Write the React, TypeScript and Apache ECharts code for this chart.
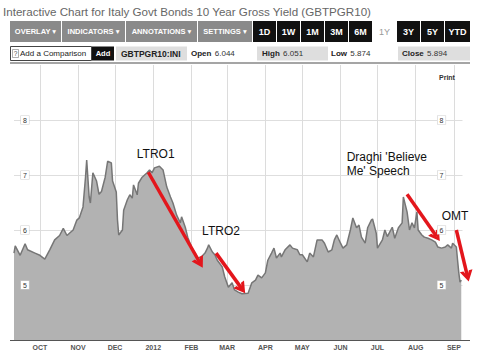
import React, { useEffect, useRef } from "react";
import * as echarts from "echarts";

// ---- data ----
const DATES = [
  "2011-09-10","2011-09-11","2011-09-15","2011-09-19","2011-09-21","2011-09-27",
  "2011-10-01","2011-10-05","2011-10-09","2011-10-13","2011-10-17","2011-10-20","2011-10-23","2011-10-25","2011-10-28","2011-10-31",
  "2011-11-02","2011-11-05","2011-11-07","2011-11-08","2011-11-10","2011-11-11","2011-11-13","2011-11-16","2011-11-18","2011-11-20","2011-11-23","2011-11-25","2011-11-28","2011-11-29",
  "2011-12-02","2011-12-03","2011-12-04","2011-12-07","2011-12-08","2011-12-11","2011-12-13","2011-12-15","2011-12-16","2011-12-19","2011-12-20","2011-12-23","2011-12-27","2011-12-29","2011-12-31",
  "2012-01-02","2012-01-06","2012-01-09","2012-01-12","2012-01-15","2012-01-17","2012-01-20","2012-01-23","2012-01-24","2012-01-27","2012-01-29",
  "2012-02-01","2012-02-04","2012-02-06","2012-02-09","2012-02-12","2012-02-14","2012-02-15","2012-02-18","2012-02-20","2012-02-22","2012-02-26","2012-02-28",
  "2012-03-02","2012-03-05","2012-03-07","2012-03-10","2012-03-13","2012-03-18","2012-03-21","2012-03-24","2012-03-26","2012-03-29",
  "2012-04-01","2012-04-03","2012-04-06","2012-04-08","2012-04-10","2012-04-13","2012-04-14","2012-04-17","2012-04-21","2012-04-23","2012-04-27","2012-04-29",
  "2012-05-01","2012-05-05","2012-05-07","2012-05-10","2012-05-13","2012-05-17","2012-05-19","2012-05-22","2012-05-25","2012-05-27","2012-05-29",
  "2012-06-01","2012-06-03","2012-06-06","2012-06-09","2012-06-11","2012-06-14","2012-06-16","2012-06-18","2012-06-21","2012-06-23","2012-06-26","2012-06-27","2012-06-30",
  "2012-07-01","2012-07-05","2012-07-07","2012-07-09","2012-07-13","2012-07-15","2012-07-18","2012-07-21","2012-07-22","2012-07-25","2012-07-27","2012-07-29","2012-07-31",
  "2012-08-02","2012-08-03","2012-08-06","2012-08-08","2012-08-11","2012-08-14","2012-08-17","2012-08-19","2012-08-22","2012-08-25","2012-08-27","2012-08-30","2012-08-31",
  "2012-09-03","2012-09-04","2012-09-05","2012-09-06","2012-09-07",
];
const YIELDS = [
  5.58,5.71,5.54,5.75,5.64,5.58,
  5.54,5.47,5.64,5.82,5.90,6.03,5.90,5.94,6.00,6.18,
  6.22,6.42,6.95,7.27,6.60,6.49,7.04,6.89,6.65,6.70,6.96,7.25,7.22,6.89,
  6.69,6.18,5.91,6.00,6.36,6.55,6.64,6.58,6.82,6.64,6.85,6.96,7.04,7.09,7.04,
  7.13,7.16,7.09,6.78,6.60,6.49,6.27,6.13,6.24,6.05,5.87,
  5.69,5.58,5.49,5.51,5.58,5.67,5.73,5.60,5.55,5.45,5.33,5.15,
  4.96,5.04,4.91,4.87,4.84,4.85,5.04,5.09,5.18,5.13,
  5.22,5.45,5.58,5.67,5.49,5.58,5.51,5.64,5.73,5.67,5.64,5.55,
  5.55,5.42,5.58,5.51,5.82,5.82,5.76,5.60,5.64,5.82,5.91,
  5.76,5.67,5.73,6.00,6.22,6.04,6.09,5.87,5.76,6.04,6.18,6.20,5.94,
  5.67,5.82,6.00,5.88,6.05,5.85,6.04,6.13,6.60,6.33,6.00,6.13,6.04,
  6.33,6.00,5.91,5.87,5.85,5.82,5.78,5.69,5.67,5.69,5.73,5.67,5.76,
  5.69,5.45,5.22,5.05,5.09,
];
const MONTH_DATES = ["2011-10-01","2011-11-01","2011-12-01","2012-01-01","2012-02-01","2012-03-01","2012-04-01","2012-05-01","2012-06-01","2012-07-01","2012-08-01","2012-09-01"];
const MONTH_LABELS = ["OCT","NOV","DEC","2012","FEB","MAR","APR","MAY","JUN","JUL","AUG","SEP"];
const Y_MIN = 4;
const Y_MAX = 9;
const X_MIN = "2011-09-10";
const X_MAX = "2012-09-08";
const X_MAX_NOTES = "2012-09-14"; // annotation layer reaches a little past the plot

// annotation arrows: [startDate, startValue, endDate, endValue]
const ARROWS: [string, number, string, number][] = [
  ["2011-12-28", 7.05, "2012-02-08", 5.40],
  ["2012-02-21", 5.58, "2012-03-13", 4.93],
  ["2012-07-25", 6.65, "2012-08-18", 5.88],
  ["2012-09-03", 6.00, "2012-09-12", 5.16],
];
// annotation labels: [date, value, text, align]
const NOTES: [string, number, string, string][] = [
  ["2012-01-03", 7.38, "LTRO1", "center"],
  ["2012-02-25", 5.98, "LTRO2", "center"],
  ["2012-06-06", 7.20, "Draghi 'Believe\nMe' Speech", "left"],
  ["2012-09-02", 6.25, "OMT", "center"],
];

const TITLE = "Interactive Chart for Italy Govt Bonds 10 Year Gross Yield (GBTPGR10)";
const QUOTE = { symbol: "GBTPGR10:INI", open: "6.044", high: "6.051", low: "5.874", close: "5.894" };

const FONT = "'Liberation Sans', Arial, Helvetica, 'DejaVu Sans', sans-serif";
const ts = (s: string) => new Date(s + "T00:00:00").getTime();
const CHEVRON = "path://M0,12 L6,0 L12,12 L8.6,12 L6,6.2 L3.4,12 Z";

const GRID_LEFT = 14;
const GRID_RIGHT = 17.5;
const GRID_TOP = 65;
const GRID_BOTTOM = 19;

function header(): any[] {
  const els: any[] = [];
  els.push({ type: "text", left: 3, top: 5, style: { text: TITLE, fill: "#666", font: `11.6px ${FONT}` } });
  const gray: [number, number, string][] = [
    [10, 61, "OVERLAY ▾"], [62, 125, "INDICATORS ▾"], [126, 197, "ANNOTATIONS ▾"], [198, 252, "SETTINGS ▾"],
  ];
  const dark: [number, number, string, boolean][] = [
    [253, 276, "1D", true], [277, 300, "1W", true], [301, 324, "1M", true], [325, 348, "3M", true], [349, 372, "6M", true],
    [373, 396, "1Y", false], [397, 420, "3Y", true], [421, 444, "5Y", true], [445, 470, "YTD", true],
  ];
  const y0 = 21, h = 21;
  gray.forEach(([a, b, t]) => {
    els.push({ type: "rect", shape: { x: a, y: y0, width: b - a, height: h }, style: { fill: "#8a8a8a" } });
    els.push({ type: "text", x: (a + b) / 2, y: y0 + h / 2, style: { text: t, fill: "#fff", font: `bold 7.5px ${FONT}`, align: "center", verticalAlign: "middle" } });
  });
  dark.forEach(([a, b, t, on]) => {
    els.push({ type: "rect", shape: { x: a, y: y0, width: b - a, height: h }, style: { fill: on ? "#111" : "#fff" } });
    els.push({ type: "text", x: (a + b) / 2, y: y0 + h / 2, style: { text: t, fill: on ? "#fff" : "#999", font: `${on ? "bold " : ""}9px ${FONT}`, align: "center", verticalAlign: "middle" } });
  });
  // info row
  const ry = 46.5, rh = 14, cy = ry + rh / 2;
  els.push({ type: "rect", shape: { x: 10.5, y: ry, width: 81, height: rh }, style: { fill: "#fff", stroke: "#444", lineWidth: 1 } });
  els.push({ type: "rect", shape: { x: 12.5, y: ry + 3, width: 6, height: 8 }, style: { fill: "#fff", stroke: "#777", lineWidth: 0.6 } });
  els.push({ type: "text", x: 15.5, y: cy, style: { text: "?", fill: "#444", font: `6.5px ${FONT}`, align: "center", verticalAlign: "middle" } });
  els.push({ type: "text", x: 20, y: cy, style: { text: "Add a Comparison", fill: "#222", font: `8px ${FONT}`, verticalAlign: "middle" } });
  els.push({ type: "rect", shape: { x: 92, y: ry, width: 22, height: rh }, style: { fill: "#111" } });
  els.push({ type: "text", x: 103, y: cy, style: { text: "Add", fill: "#fff", font: `bold 7.5px ${FONT}`, align: "center", verticalAlign: "middle" } });
  els.push({ type: "rect", shape: { x: 116, y: ry, width: 71, height: rh }, style: { fill: "#dedede" } });
  els.push({ type: "text", x: 121, y: cy, style: { text: QUOTE.symbol, fill: "#222", font: `bold 8.5px ${FONT}`, verticalAlign: "middle" } });
  const kv = (x: number, k: string, v: string) => ({
    type: "text", x, y: cy,
    style: { text: `{k|${k}} {v|${v}}`, verticalAlign: "middle", rich: { k: { fill: "#222", fontWeight: "bold", fontSize: 8, fontFamily: FONT }, v: { fill: "#333", fontSize: 8, fontFamily: FONT } } },
  });
  els.push(kv(191, "Open", QUOTE.open));
  els.push({ type: "rect", shape: { x: 257, y: ry, width: 71, height: rh }, style: { fill: "#dedede" } });
  els.push(kv(262, "High", QUOTE.high));
  els.push(kv(331, "Low", QUOTE.low));
  els.push({ type: "rect", shape: { x: 398, y: ry, width: 72, height: rh }, style: { fill: "#dedede" } });
  els.push(kv(402, "Close", QUOTE.close));
  els.push({ type: "line", shape: { x1: 10, y1: 63, x2: 470, y2: 63 }, style: { stroke: "#a5a5a5", lineWidth: 2 } });
  els.push({ type: "text", x: 439, y: 74, z: 30, style: { text: "Print", fill: "#333", font: `bold 7px ${FONT}` } });
  els.push({ type: "line", z: 20, shape: { x1: 10, y1: 340.5, x2: 470, y2: 340.5 }, style: { stroke: "#555", lineWidth: 1 } });
  return els;
}

export default function App() {
  const ref = useRef<HTMLDivElement>(null);
  useEffect(() => {
    if (!ref.current) return;
    const chart = echarts.init(ref.current, undefined, { renderer: "svg" });
    const data = DATES.map((d, i) => [ts(d), YIELDS[i]]);
    // annotation grid shares the same day scale as the main grid, but reaches further right
    const plotW = 480 - GRID_LEFT - GRID_RIGHT;
    const pxPerMs = plotW / (ts(X_MAX) - ts(X_MIN));
    const notesW = (ts(X_MAX_NOTES) - ts(X_MIN)) * pxPerMs;
    const notesRight = 480 - GRID_LEFT - notesW;
    const yLabel = (margin: number) => ({
      inside: true, margin, showMinLabel: false, showMaxLabel: false,
      fontSize: 7, color: "#333", fontFamily: FONT,
      backgroundColor: "#fff", borderColor: "#d0d0d0", borderWidth: 0.6, padding: [1, 2, 0, 2],
    });
    const hiddenAxis = { axisLabel: { show: false }, axisTick: { show: false }, splitLine: { show: false }, axisLine: { show: false, onZero: false } };
    chart.setOption({
      animation: false,
      backgroundColor: "#fff",
      grid: [
        { left: GRID_LEFT, right: GRID_RIGHT, top: GRID_TOP, bottom: GRID_BOTTOM },
        { left: GRID_LEFT, right: notesRight, top: GRID_TOP, bottom: GRID_BOTTOM },
      ],
      xAxis: [
        { type: "time", gridIndex: 0, min: ts(X_MIN), max: ts(X_MAX), ...hiddenAxis },
        { type: "time", gridIndex: 1, min: ts(X_MIN), max: ts(X_MAX_NOTES), ...hiddenAxis },
      ],
      yAxis: [
        { type: "value", gridIndex: 0, min: Y_MIN, max: Y_MAX, interval: 1, position: "left", z: 10,
          axisLine: { show: false }, axisTick: { show: false }, splitLine: { show: false }, axisLabel: yLabel(7) },
        { type: "value", gridIndex: 0, min: Y_MIN, max: Y_MAX, interval: 1, position: "right", z: 10,
          axisLine: { show: false }, axisTick: { show: false }, splitLine: { show: false }, axisLabel: yLabel(17) },
        { type: "value", gridIndex: 0, min: Y_MIN, max: Y_MAX, interval: 1, position: "left", z: 0,
          axisLine: { show: false }, axisTick: { show: false }, axisLabel: { show: false },
          splitLine: { show: true, lineStyle: { color: ["rgba(0,0,0,0)", "#dedede", "#dedede", "#dedede", "#dedede", "rgba(0,0,0,0)"], width: 1 } } },
        { type: "value", gridIndex: 1, min: Y_MIN, max: Y_MAX, ...hiddenAxis },
      ],
      graphic: header(),
      series: [
        {
          type: "line", data: [], z: 1, silent: true, xAxisIndex: 0, yAxisIndex: 0,
          markLine: {
            silent: true, z: 1, symbol: ["none", "none"], animation: false,
            lineStyle: { color: "#dcdcdc", type: "solid", width: 1 },
            label: { show: true, position: "start", distance: 4, fontSize: 7, fontWeight: "bold", color: "#555", fontFamily: FONT },
            emphasis: { disabled: true },
            data: MONTH_DATES.map((d, i) => ({ xAxis: ts(d), label: { formatter: MONTH_LABELS[i] } })),
          },
        },
        {
          type: "line", data, z: 2, symbol: "none", showSymbol: false, silent: true, xAxisIndex: 0, yAxisIndex: 0,
          lineStyle: { color: "#767676", width: 1.5 },
          areaStyle: { color: "#b2b2b2", opacity: 1 },
        },
        {
          type: "line", data: [], z: 5, clip: false, silent: true, xAxisIndex: 1, yAxisIndex: 3,
          markLine: {
            silent: true, z: 6, symbol: ["none", CHEVRON], symbolSize: [13, 11], animation: false,
            lineStyle: { color: "#e3161c", type: "solid", width: 3.5, opacity: 1 },
            label: { show: false }, emphasis: { disabled: true },
            data: ARROWS.map(([d1, v1, d2, v2]) => [{ coord: [ts(d1), v1] }, { coord: [ts(d2), v2] }]),
          },
          markPoint: {
            silent: true, z: 6, symbol: "rect", symbolSize: 0, animation: false,
            emphasis: { disabled: true },
            data: NOTES.map(([d, v, t, align]) => ({
              coord: [ts(d), v],
              label: { show: true, position: "inside", formatter: t, align, color: "#111", fontSize: 12, lineHeight: 14, fontFamily: FONT },
            })),
          },
        },
      ],
    });
    return () => chart.dispose();
  }, []);
  return <div ref={ref} style={{ position: "fixed", left: 0, top: 0, width: 480, height: 359 }} />;
}
